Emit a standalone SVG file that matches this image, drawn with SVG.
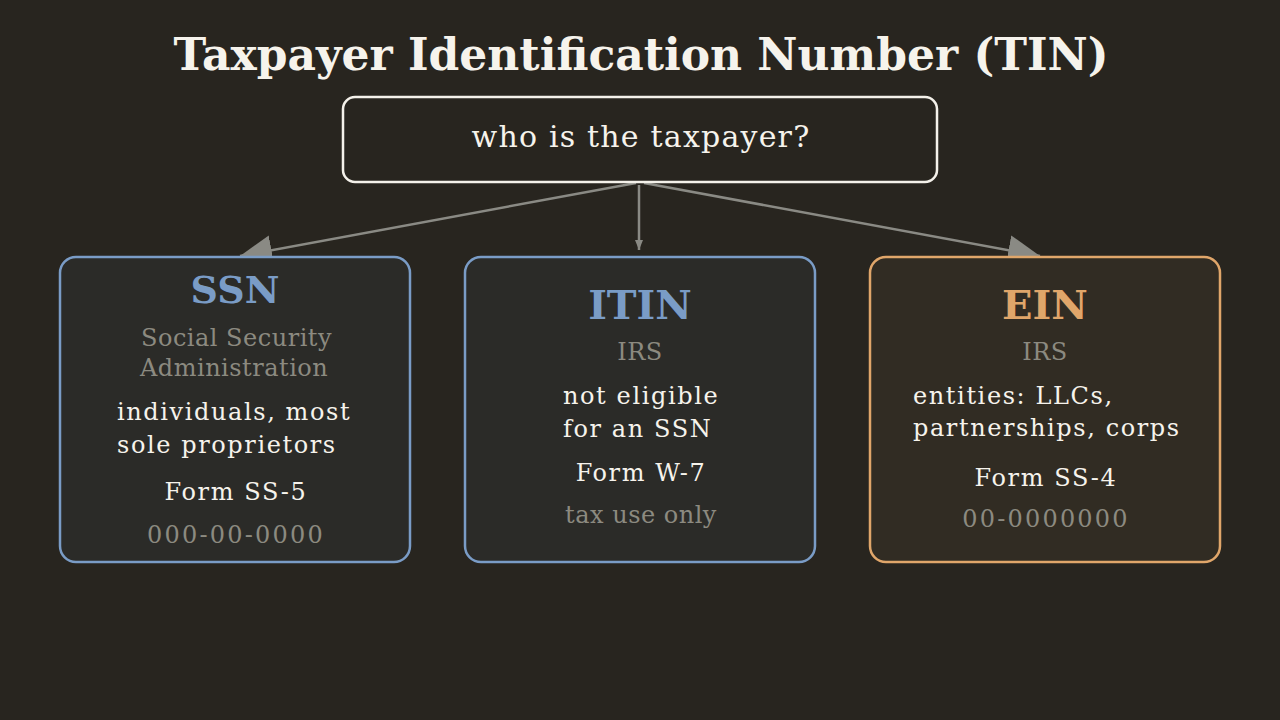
<svg xmlns="http://www.w3.org/2000/svg" width="1280" height="720" viewBox="0 0 1280 720">
<defs>
<style>
text{font-family:"DejaVu Serif","Liberation Serif",serif}
.title{font-size:44px;font-weight:bold;fill:#f6f3ec;text-anchor:middle}
.q{font-size:30px;fill:#f6f3ec;text-anchor:middle;letter-spacing:1.2px}
.h{font-size:40px;font-weight:bold;text-anchor:middle}
.g{font-size:24px;fill:#8c8a80;letter-spacing:0.5px}
.num{letter-spacing:2.2px}
.w{font-size:24px;fill:#f6f3ec;letter-spacing:1.6px}
.c{text-anchor:middle}
.edge{stroke:#8a8a84;stroke-width:2.5;fill:none}
</style>
<marker id="big" viewBox="0 0 32 30" refX="32" refY="15" markerWidth="32" markerHeight="30" markerUnits="userSpaceOnUse" orient="auto">
<path d="M0,0 L32,15 L0,30 Z" fill="#8a8a84"/>
</marker>
<marker id="small" viewBox="0 0 10 8" refX="10" refY="4" markerWidth="10" markerHeight="8" markerUnits="userSpaceOnUse" orient="auto">
<path d="M0,0 L10,4 L0,8 Z" fill="#8a8a84"/>
</marker>
</defs>
<rect width="1280" height="720" fill="#28251f"/>
<text class="title" x="641" y="70">Taxpayer Identification Number (TIN)</text>
<g id="connectors">
<line class="edge" x1="636" y1="183" x2="240" y2="256" marker-end="url(#big)"/>
<line class="edge" x1="639" y1="185" x2="639" y2="250" marker-end="url(#small)"/>
<line class="edge" x1="644" y1="183" x2="1040" y2="256" marker-end="url(#big)"/>
</g>
<g id="question">
<rect x="343" y="97" width="594" height="85" rx="12" fill="#28251f" stroke="#f4f1ea" stroke-width="2.5"/>
<text class="q" x="641" y="147">who is the taxpayer?</text>
</g>
<g id="ssn">
<rect x="60" y="257" width="350" height="305" rx="16" fill="#2b2b28" stroke="#7a9cc6" stroke-width="2.5"/>
<text class="h" x="235" y="303" fill="#7a9cc6" style="font-size:38px">SSN</text>
<text class="g" x="141" y="346">Social Security</text>
<text class="g" x="140" y="376">Administration</text>
<text class="w" x="117" y="420">individuals, most</text>
<text class="w" x="117" y="453">sole proprietors</text>
<text class="w c" x="236" y="500">Form SS-5</text>
<text class="g num c" x="236" y="543">000-00-0000</text>
</g>
<g id="itin">
<rect x="465" y="257" width="350" height="305" rx="16" fill="#2b2b28" stroke="#7a9cc6" stroke-width="2.5"/>
<text class="h" x="640" y="319" fill="#7a9cc6">ITIN</text>
<text class="g c" x="640" y="360">IRS</text>
<text class="w" x="563" y="404">not eligible</text>
<text class="w" x="563" y="437">for an SSN</text>
<text class="w c" x="641" y="481">Form W-7</text>
<text class="g c" x="641" y="523">tax use only</text>
</g>
<g id="ein">
<rect x="870" y="257" width="350" height="305" rx="16" fill="#312c23" stroke="#e0a66a" stroke-width="2.5"/>
<text class="h" x="1045" y="319" fill="#e0a66a">EIN</text>
<text class="g c" x="1045" y="360">IRS</text>
<text class="w" x="913" y="404">entities: LLCs,</text>
<text class="w" x="913" y="436">partnerships, corps</text>
<text class="w c" x="1046" y="486">Form SS-4</text>
<text class="g num c" x="1046" y="527">00-0000000</text>
</g>
</svg>
